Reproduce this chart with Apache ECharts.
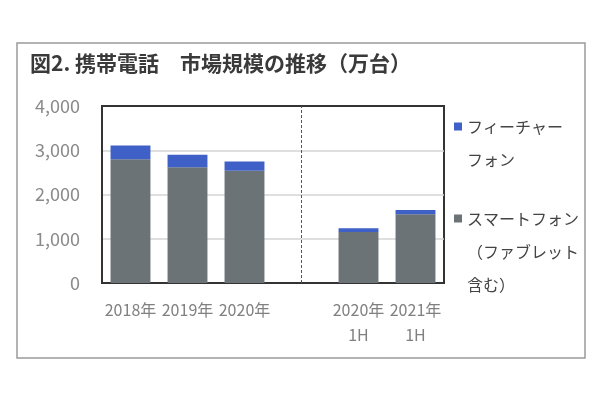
<!DOCTYPE html>
<html>
<head>
<meta charset="utf-8">
<script src="https://cdn.jsdelivr.net/npm/echarts@6/dist/echarts.min.js"></script>
<style>
  html, body { margin: 0; padding: 0; background: #fff; }
  #chart { width: 600px; height: 399px; }
</style>
</head>
<body>
<div id="chart"></div>
<script>
// カテゴリ（4番目は空欄：年次と半期の区切り）
var categories = ['2018年', '2019年', '2020年', '', '2020年\n1H', '2021年\n1H'];
// スマートフォン（ファブレット含む）
var smartValues = [2795, 2614, 2538, null, 1152, 1552];
// フィーチャーフォン
var featureValues = [310, 285, 205, null, 85, 100];
var yTicks = [0, 1000, 2000, 3000, 4000];

var FONT = '"Noto Sans CJK JP", "Noto Sans", sans-serif';
var FRAME_COLOR = '#333';

var myChart = echarts.init(document.getElementById('chart'));

// 凡例：1行目がアイコンの高さに来るよう、上に空行を足す
function legendLines(lines) {
    var pad = [];
    for (var i = 1; i < lines.length; i++) pad.push('');
    return pad.concat(lines).join('\n');
}
var legendTextStyle = { fontFamily: FONT, fontSize: 16, lineHeight: 33, color: '#444' };

var option = {
    backgroundColor: '#fff',
    animation: false,
    title: {
        text: '図2. 携帯電話　市場規模の推移（万台）',
        left: 30,
        top: 53,
        padding: 0,
        textStyle: { fontFamily: FONT, fontSize: 21, fontWeight: 'bold', color: '#3a3a3a' }
    },
    graphic: [{
        type: 'rect',
        shape: { x: 17, y: 43, width: 568, height: 315 },
        style: { fill: 'none', stroke: '#9a9a9a', lineWidth: 1.5 },
        silent: true
    }],
    legend: [{
        data: ['フィーチャーフォン'],
        formatter: function () { return legendLines(['フィーチャー', 'フォン']); },
        left: 454,
        top: 77,
        padding: 0,
        itemWidth: 8,
        itemHeight: 8,
        icon: 'rect',
        textStyle: legendTextStyle
    }, {
        data: ['スマートフォン（ファブレット含む）'],
        formatter: function () { return legendLines(['スマートフォン', '（ファブレット', '含む）']); },
        left: 454,
        top: 136,
        padding: 0,
        itemWidth: 8,
        itemHeight: 8,
        icon: 'rect',
        textStyle: legendTextStyle
    }],
    grid: {
        left: 102,
        right: 156,
        top: 106,
        bottom: 116,
        show: true,
        backgroundColor: 'transparent',
        borderColor: FRAME_COLOR,
        borderWidth: 2
    },
    xAxis: {
        type: 'category',
        data: categories,
        axisLine: { show: true, lineStyle: { color: FRAME_COLOR, width: 2 } },
        axisTick: { show: false },
        axisLabel: {
            interval: 0,
            margin: 14,
            fontFamily: FONT,
            fontSize: 16,
            lineHeight: 25,
            color: '#808080'
        }
    },
    yAxis: {
        type: 'value',
        min: yTicks[0],
        max: yTicks[yTicks.length - 1],
        interval: 1000,
        axisLine: { show: true, lineStyle: { color: FRAME_COLOR, width: 2 } },
        axisTick: { show: false },
        splitLine: {
            showMinLine: false,
            showMaxLine: false,
            lineStyle: { color: '#d4d4d4', width: 1.5 }
        },
        axisLabel: {
            margin: 22,
            fontFamily: FONT,
            fontSize: 18,
            color: '#8a8a8a',
            formatter: function (v) { return v.toLocaleString('en-US'); }
        }
    },
    series: [{
        name: 'スマートフォン（ファブレット含む）',
        type: 'bar',
        stack: 'total',
        barWidth: '70%',
        data: smartValues,
        itemStyle: { color: '#6b7377' },
        markLine: {
            silent: true,
            symbol: 'none',
            label: { show: false },
            lineStyle: { color: '#555', type: [3, 2], width: 1 },
            data: [{ xAxis: 3 }]
        }
    }, {
        name: 'フィーチャーフォン',
        type: 'bar',
        stack: 'total',
        barWidth: '70%',
        data: featureValues,
        itemStyle: { color: '#3f60c6' }
    }]
};

myChart.setOption(option);
</script>
</body>
</html>
